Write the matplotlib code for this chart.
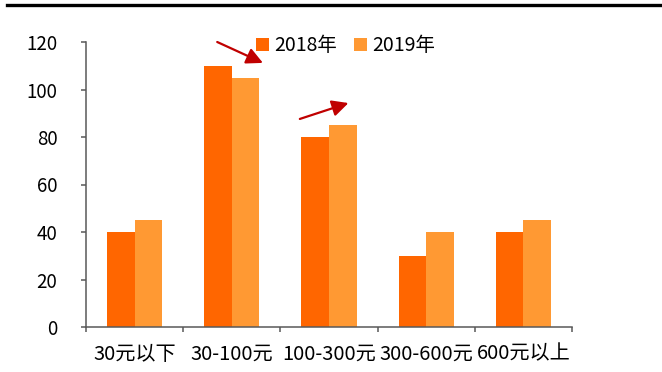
import numpy as np
import matplotlib
matplotlib.use("Agg")
import matplotlib.pyplot as plt
from matplotlib.lines import Line2D

plt.rcParams['font.family'] = ['Noto Sans CJK SC', 'DejaVu Sans']

# price bands and the number in each band, two years
categories = ["30元以下", "30-100元", "100-300元", "300-600元", "600元以上"]
values_2018 = [40, 110, 80, 30, 40]
values_2019 = [45, 105, 85, 40, 45]
series_names = ["2018年", "2019年"]
yticks = [0, 20, 40, 60, 80, 100, 120]

c2018 = "#FF6600"
c2019 = "#FF9933"
axis_gray = "#595959"

fig = plt.figure(figsize=(6.62, 3.72), dpi=100)
ax = fig.add_axes([86 / 662, 1 - 327 / 372, 486 / 662, 285 / 372])

x = np.arange(len(categories))
w = 0.283
ax.bar(x - w / 2, values_2018, width=w, color=c2018, label=series_names[0])
ax.bar(x + w / 2, values_2019, width=w, color=c2019, label=series_names[1])

ax.set_xlim(-0.5, len(categories) - 0.5)
ax.set_ylim(0, 120)
ax.set_yticks(yticks)
ax.tick_params(axis='y', direction='out', length=3.6, width=1.1, color=axis_gray,
               labelsize=13.5, pad=17)

# category labels centred, ticks on the boundaries between groups
ax.set_xticks(x)
ax.set_xticklabels(categories, fontsize=14.5)
ax.tick_params(axis='x', which='major', length=0, pad=12)
ax.set_xticks(np.arange(len(categories) + 1) - 0.5, minor=True)
ax.tick_params(axis='x', which='minor', direction='out', length=3.6, width=1.1,
               color=axis_gray)

for s in ['top', 'right']:
    ax.spines[s].set_visible(False)
for s in ['left', 'bottom']:
    ax.spines[s].set_color(axis_gray)
    ax.spines[s].set_linewidth(1.1)

leg = ax.legend(loc='upper left', bbox_to_anchor=(256 / 662, 1 - 35 / 372),
                bbox_transform=fig.transFigure, ncol=2, frameon=False,
                fontsize=14, handlelength=0.65, handleheight=0.65,
                handletextpad=0.3, columnspacing=0.85, borderpad=0,
                borderaxespad=0)

# red arrows marking the change between years
arrow = dict(arrowstyle='-|>,head_length=0.7,head_width=0.35', color='#C00000',
             lw=1.6, mutation_scale=14, shrinkA=0, shrinkB=0)
ax.annotate("", xy=(1.32, 111.2), xytext=(0.85, 120), arrowprops=arrow,
            annotation_clip=False)
ax.annotate("", xy=(2.20, 94.3), xytext=(1.70, 87.6), arrowprops=arrow,
            annotation_clip=False)

# heavy rule across the top
fig.add_artist(Line2D([7 / 662, 1.0], [1 - 5 / 372, 1 - 5 / 372], color='black',
                      lw=2.4, transform=fig.transFigure))

fig.savefig("out.png", dpi=100)
